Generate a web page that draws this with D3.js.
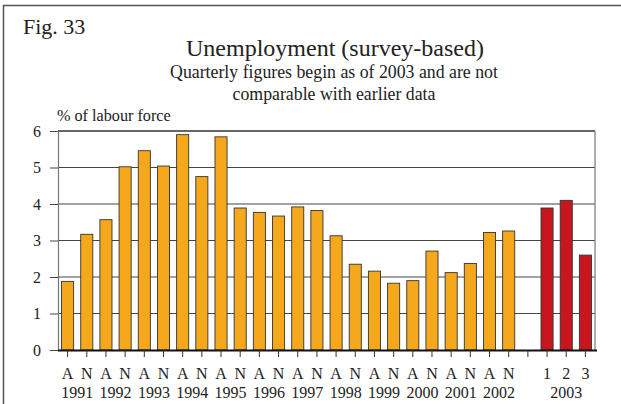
<!DOCTYPE html>
<html>
<head>
<meta charset="utf-8">
<script src="https://cdn.jsdelivr.net/npm/d3@7"></script>
<style>
  body { margin: 0; background: #fff; }
  svg, text { font-family: "Liberation Serif", "DejaVu Serif", serif; }
  text { fill: #222; }
</style>
</head>
<body>
<div class="board"></div>
<script>
// Data
var annualKeys = ['1991A','1991N','1992A','1992N','1993A','1993N','1994A','1994N',
                  '1995A','1995N','1996A','1996N','1997A','1997N','1998A','1998N',
                  '1999A','1999N','2000A','2000N','2001A','2001N','2002A','2002N'];
var annualValues = [1.88, 3.17, 3.57, 5.02, 5.46, 5.04, 5.90, 4.75,
                    5.84, 3.89, 3.77, 3.67, 3.92, 3.82, 3.13, 2.35,
                    2.16, 1.83, 1.90, 2.71, 2.12, 2.37, 3.22, 3.26];
var quarterKeys = ['2003Q1','2003Q2','2003Q3'];
var quarterValues = [3.89, 4.10, 2.60];
var gapKey = 'gap';
var slotLabels = ['A','N','A','N','A','N','A','N','A','N','A','N',
                  'A','N','A','N','A','N','A','N','A','N','A','N',
                  '', '1','2','3'];
var yearLabels = ['1991','1992','1993','1994','1995','1996','1997','1998',
                  '1999','2000','2001','2002'];
var yTicks = [0, 1, 2, 3, 4, 5, 6];

var W = 621, H = 404;
var plot = { left: 58, right: 595, top: 131, bottom: 350 };
var orange = '#F6A81D', red = '#C8161F';
var serif = '"Liberation Serif", "DejaVu Serif", serif';

var slots = annualKeys.concat([gapKey], quarterKeys);
var bars = annualKeys.map(function(k, i) { return { key: k, value: annualValues[i], color: orange }; })
  .concat(quarterKeys.map(function(k, i) { return { key: k, value: quarterValues[i], color: red }; }));

var svg = d3.select('.board').append('svg')
  .attr('width', W)
  .attr('height', H)
  .attr('font-family', serif);

// outer frame (cropped on right/bottom)
svg.append('path')
  .attr('d', 'M3.5,' + H + 'V5.5H' + W)
  .attr('fill', 'none')
  .attr('stroke', '#555')
  .attr('stroke-width', 1.5);

var x = d3.scaleBand()
  .domain(slots)
  .range([plot.left, plot.right])
  .paddingInner(0.37)
  .paddingOuter(0.185);

var y = d3.scaleLinear()
  .domain([0, 6])
  .range([plot.bottom, plot.top]);

// gridlines
svg.append('g').selectAll('line')
  .data(yTicks.filter(function(d) { return d > 0; }))
  .enter().append('line')
  .attr('x1', plot.left).attr('x2', plot.right)
  .attr('y1', function(d) { return y(d); })
  .attr('y2', function(d) { return y(d); })
  .attr('stroke', function(d) { return d === 6 ? '#333' : '#444'; })
  .attr('stroke-width', function(d) { return d === 6 ? 1.5 : 1; });

// right border
svg.append('line')
  .attr('x1', plot.right).attr('x2', plot.right)
  .attr('y1', plot.top).attr('y2', plot.bottom)
  .attr('stroke', '#777').attr('stroke-width', 1.2);

// bars
svg.append('g').selectAll('rect')
  .data(bars)
  .enter().append('rect')
  .attr('x', function(d) { return x(d.key); })
  .attr('width', x.bandwidth())
  .attr('y', function(d) { return y(d.value); })
  .attr('height', function(d) { return y(0) - y(d.value); })
  .attr('fill', function(d) { return d.color; })
  .attr('stroke', '#333')
  .attr('stroke-width', 0.9);

// y axis
var yAxis = svg.append('g')
  .attr('transform', 'translate(' + plot.left + ',0)')
  .call(d3.axisLeft(y).tickValues(yTicks).tickSize(8).tickPadding(9).tickFormat(d3.format('d')));
yAxis.attr('font-family', serif).attr('font-size', 16);
yAxis.select('.domain').attr('stroke', '#777').attr('stroke-width', 1.2);
yAxis.selectAll('.tick line').attr('stroke', '#444');
yAxis.selectAll('text').attr('fill', '#222');

// x axis ticks and labels
var xAxis = svg.append('g')
  .attr('transform', 'translate(0,' + plot.bottom + ')')
  .call(d3.axisBottom(x).tickSize(7).tickPadding(11)
    .tickFormat(function(d, i) { return slotLabels[i]; }));
xAxis.attr('font-family', serif).attr('font-size', 16);
xAxis.select('.domain').attr('d', 'M' + plot.left + ',0.5H' + (plot.right + 2))
  .attr('stroke', '#111').attr('stroke-width', 1.8);
xAxis.selectAll('.tick line').attr('stroke', '#333');
xAxis.selectAll('text').attr('fill', '#222');

// year labels
svg.append('g').selectAll('text')
  .data(yearLabels)
  .enter().append('text')
  .attr('x', function(d, i) { return x(annualKeys[2 * i]) + x.step() / 2 + x.bandwidth() / 2; })
  .attr('y', 398)
  .attr('text-anchor', 'middle')
  .attr('font-size', 16)
  .text(function(d) { return d; });

svg.append('text')
  .attr('x', x('2003Q2') + x.bandwidth() / 2)
  .attr('y', 398)
  .attr('text-anchor', 'middle')
  .attr('font-size', 16)
  .text('2003');

// titles
svg.append('text').attr('x', 23).attr('y', 34).attr('font-size', 22).text('Fig. 33');
svg.append('text').attr('x', 335).attr('y', 56).attr('text-anchor', 'middle')
  .attr('font-size', 24).text('Unemployment (survey-based)');
svg.append('text').attr('x', 334).attr('y', 78).attr('text-anchor', 'middle')
  .attr('font-size', 17.8).text('Quarterly figures begin as of 2003 and are not');
svg.append('text').attr('x', 334).attr('y', 100).attr('text-anchor', 'middle')
  .attr('font-size', 17.8).text('comparable with earlier data');
svg.append('text').attr('x', 57).attr('y', 121).attr('font-size', 16.2).text('% of labour force');
</script>
</body>
</html>
